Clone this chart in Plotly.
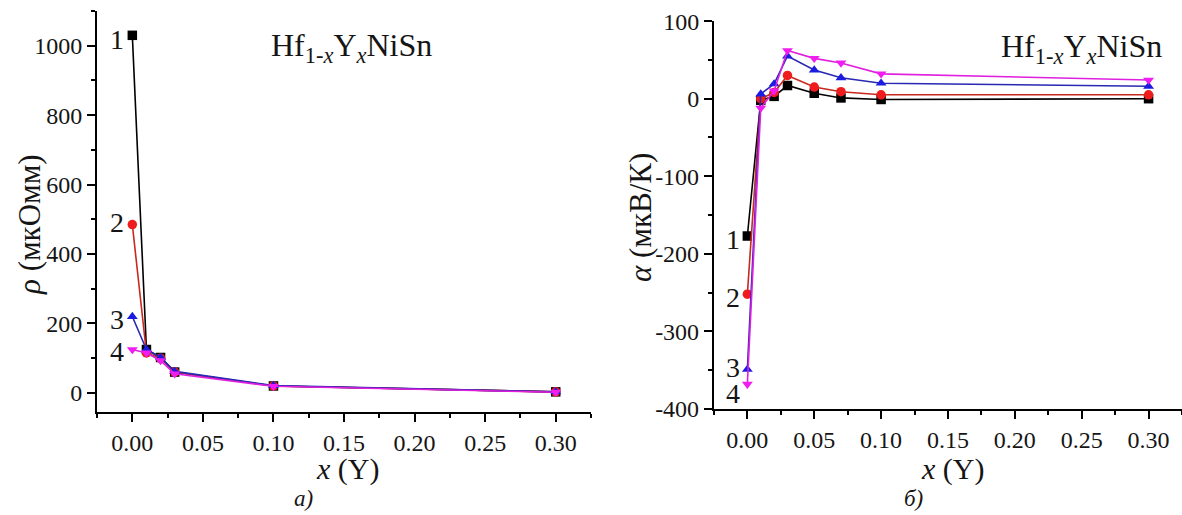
import plotly.graph_objects as go

# --- resistivity rho(x), panel a) ---
x_rho = [0.0, 0.01, 0.02, 0.03, 0.10, 0.30]
rho_1 = [1030, 125, 102, 60, 20, 3]
rho_2 = [485, 115, 100, 60, 20, 3]
rho_3 = [220, 125, 102, 62, 21, 3]
rho_4 = [125, 115, 93, 55, 19, 2]

# --- thermopower alpha(x), panel b) ---
x_alpha = [0.0, 0.01, 0.02, 0.03, 0.05, 0.07, 0.10, 0.30]
alpha_1 = [-177, -2, 3, 17, 7, 1, -1, 0]
alpha_2 = [-252, 0, 8, 30, 15, 9, 5, 5]
alpha_3 = [-349, 6, 19, 55, 37, 27, 20, 16]
alpha_4 = [-368, -12, 10, 62, 52, 46, 32, 24]

series_names = ["1", "2", "3", "4"]
x_ticks = [0, 0.05, 0.10, 0.15, 0.20, 0.25, 0.30]
x_ticktext = ["0.00", "0.05", "0.10", "0.15", "0.20", "0.25", "0.30"]
rho_ticks = [0, 200, 400, 600, 800, 1000]
rho_ticktext = ["0", "200", "400", "600", "800", "1000"]
alpha_ticks = [-400, -300, -200, -100, 0, 100]
alpha_ticktext = ["-400", "-300", "-200", "-100", "0", "100"]

marker_colors = ["#000000", "#ee1c1c", "#1c1ce0", "#f01cf0"]
line_colors = ["#000000", "#c8281e", "#2828b4", "#e020e0"]
symbols = ["square", "circle", "triangle-up", "triangle-down"]

FONT = "Liberation Serif, Times New Roman, serif"
INK = "#151515"

fig = go.Figure()

rho_sets = [rho_1, rho_2, rho_3, rho_4]
alpha_sets = [alpha_1, alpha_2, alpha_3, alpha_4]

for i in range(4):
    fig.add_trace(go.Scatter(
        x=x_rho, y=rho_sets[i], mode="lines+markers", name=series_names[i],
        line=dict(color=line_colors[i], width=1.6),
        marker=dict(symbol=symbols[i], size=9.5, color=marker_colors[i]),
        xaxis="x", yaxis="y", showlegend=False, cliponaxis=False))
for i in range(4):
    fig.add_trace(go.Scatter(
        x=x_alpha, y=alpha_sets[i], mode="lines+markers", name=series_names[i],
        line=dict(color=line_colors[i], width=1.6),
        marker=dict(symbol=symbols[i], size=9.5, color=marker_colors[i]),
        xaxis="x2", yaxis="y2", showlegend=False, cliponaxis=False))

axis_common = dict(
    showline=True, linecolor="black", linewidth=2,
    ticks="outside", ticklen=8, tickwidth=2, tickcolor="black",
    showgrid=False, zeroline=False, automargin=False,
    tickfont=dict(family=FONT, size=24, color=INK),
)

def minor(step):
    return dict(ticks="outside", ticklen=4, tickwidth=2, tickcolor="black",
                dtick=step)

fig.update_layout(
    width=1182, height=515,
    margin=dict(l=0, r=0, t=0, b=0),
    paper_bgcolor="white", plot_bgcolor="white",
    xaxis=dict(domain=[0.0821, 0.5], range=[-0.025, 0.325],
               tickvals=x_ticks, ticktext=x_ticktext, anchor="y",
               minor=minor(0.025), **axis_common),
    yaxis=dict(domain=[0.2, 0.9786], range=[-55, 1100],
               tickvals=rho_ticks, ticktext=rho_ticktext, anchor="x",
               minor=minor(100), **axis_common),
    xaxis2=dict(domain=[0.604, 1.0], range=[-0.025, 0.325],
                tickvals=x_ticks, ticktext=x_ticktext, anchor="y2",
                minor=minor(0.025), **axis_common),
    yaxis2=dict(domain=[0.2058, 0.959], range=[-400, 100],
                tickvals=alpha_ticks, ticktext=alpha_ticktext, anchor="x2",
                minor=minor(50), **axis_common),
)

ann = []
# curve numbers beside the first point of each curve
label_font = dict(family=FONT, size=28, color=INK)
rho_label_dy = [-4, 2, -3, -2]
alpha_label_dy = [-3, -3, 2, -9]
for i in range(4):
    ann.append(dict(x=x_rho[0], y=rho_sets[i][0], xref="x", yref="y",
                    text=series_names[i], showarrow=False, xanchor="right",
                    yanchor="middle", xshift=-6, yshift=rho_label_dy[i],
                    font=label_font))
for i in range(4):
    ann.append(dict(x=x_alpha[0], y=alpha_sets[i][0], xref="x2", yref="y2",
                    text=series_names[i], showarrow=False, xanchor="right",
                    yanchor="middle", xshift=-5, yshift=alpha_label_dy[i],
                    font=label_font))

formula = "Hf<sub>1-<i>x</i></sub>Y<sub><i>x</i></sub>NiSn"
title_font = dict(family=FONT, size=32, color=INK)
ann.append(dict(x=351 / 1182, y=1 - 47 / 515, xref="paper", yref="paper",
                text=formula, showarrow=False, xanchor="center", yanchor="middle",
                font=title_font))
ann.append(dict(x=1081 / 1182, y=1 - 49 / 515, xref="paper", yref="paper",
                text=formula, showarrow=False, xanchor="center", yanchor="middle",
                font=title_font))

axis_title_font = dict(family=FONT, size=30, color=INK)
ann.append(dict(x=347 / 1182, y=1 - 469 / 515, xref="paper", yref="paper",
                text="<i>x</i> (Y)", showarrow=False, xanchor="center",
                yanchor="middle", font=axis_title_font))
ann.append(dict(x=952 / 1182, y=1 - 469 / 515, xref="paper", yref="paper",
                text="<i>x</i> (Y)", showarrow=False, xanchor="center",
                yanchor="middle", font=axis_title_font))
rot_font = dict(family=FONT, size=31, color=INK)
ann.append(dict(x=29 / 1182, y=1 - 225 / 515, xref="paper", yref="paper",
                text="<i>ρ</i> (мкОмм)", showarrow=False, textangle=-90,
                xanchor="center", yanchor="middle", font=rot_font))
ann.append(dict(x=640 / 1182, y=1 - 218 / 515, xref="paper", yref="paper",
                text="<i>α</i> (мкВ/К)", showarrow=False, textangle=-90,
                xanchor="center", yanchor="middle", font=rot_font))

caption_font = dict(family=FONT, size=23, color=INK)
ann.append(dict(x=304 / 1182, y=1 - 498 / 515, xref="paper", yref="paper",
                text="<i>а)</i>", showarrow=False, xanchor="center",
                yanchor="middle", font=caption_font))
ann.append(dict(x=913 / 1182, y=1 - 498 / 515, xref="paper", yref="paper",
                text="<i>б)</i>", showarrow=False, xanchor="center",
                yanchor="middle", font=caption_font))

fig.update_layout(annotations=ann)

fig.write_html("out.html")
